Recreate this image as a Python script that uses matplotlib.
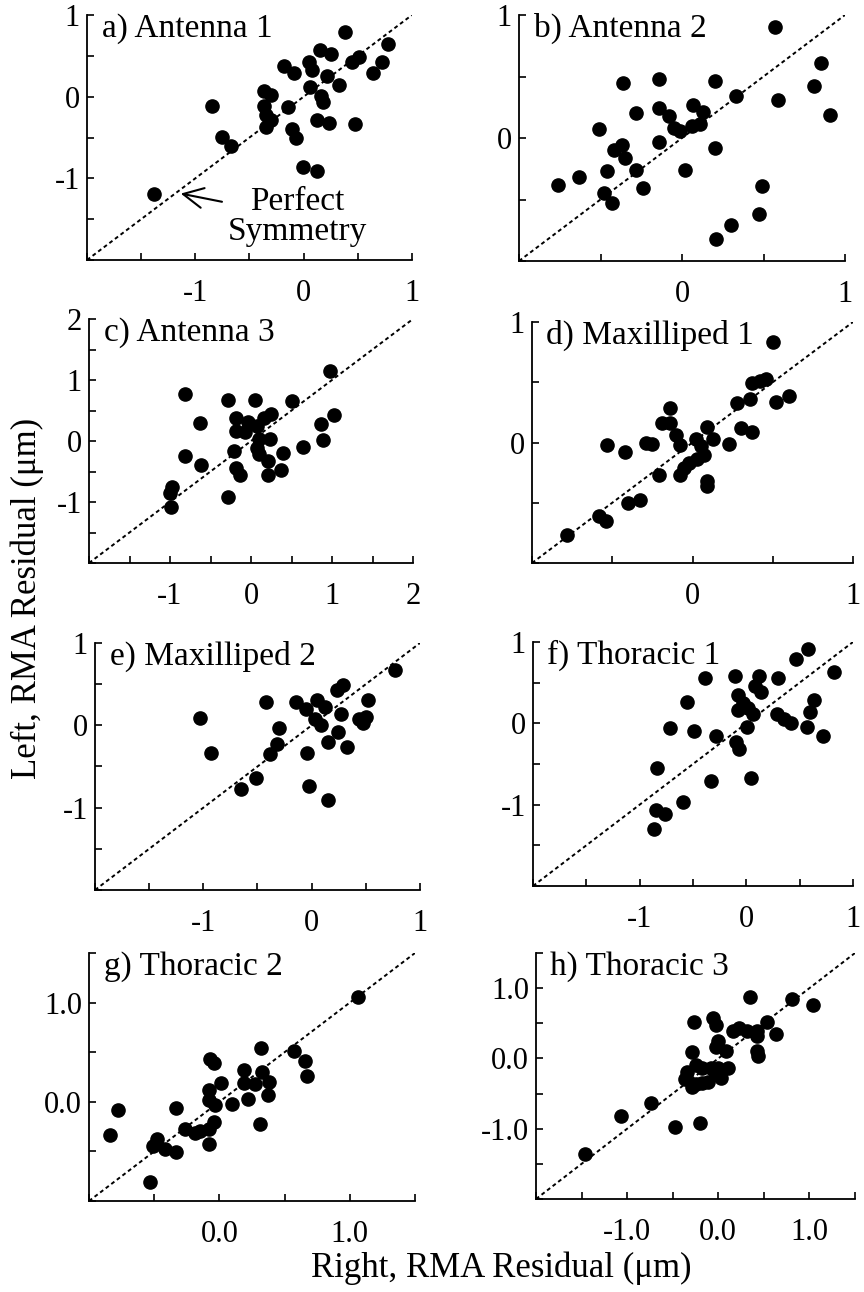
import matplotlib.pyplot as plt
import numpy as np

plt.rcParams['font.family'] = ['Liberation Serif', 'DejaVu Serif']

# a) Antenna 1
a_right = [0.38, 0.78, 0.72, 0.64, 0.51, 0.45, 0.15, 0.25, 0.05, 0.08, 0.22, 0.33, 0.06,
           -0.18, -0.09, 0.16, 0.18, -0.37, -0.30, -0.37, -0.35, -0.30, -0.35, -0.14, 0.12,
           0.23, 0.47, -0.11, -0.07, -0.85, -0.75, -0.67, -0.01, 0.12, -1.38]
a_left = [0.79, 0.64, 0.43, 0.29, 0.48, 0.43, 0.57, 0.52, 0.43, 0.33, 0.25, 0.14, 0.12,
          0.37, 0.29, 0.01, -0.06, 0.07, 0.02, -0.11, -0.22, -0.29, -0.37, -0.13, -0.29,
          -0.32, -0.34, -0.40, -0.51, -0.11, -0.49, -0.61, -0.86, -0.91, -1.19]

# b) Antenna 2
b_right = [0.57, 0.85, 0.81, 0.59, 0.91, 0.20, 0.33, -0.14, -0.36, -0.28, -0.14, -0.08,
           0.07, 0.13, -0.05, -0.01, 0.06, 0.11, -0.51, -0.14, 0.20, -0.37, -0.42, -0.35,
           -0.46, -0.28, 0.02, -0.63, -0.76, -0.48, -0.43, -0.24, 0.49, 0.47, 0.30, 0.21]
b_left = [0.90, 0.61, 0.42, 0.31, 0.19, 0.46, 0.34, 0.48, 0.45, 0.20, 0.24, 0.18, 0.27,
          0.21, 0.08, 0.06, 0.10, 0.11, 0.07, -0.03, -0.08, -0.06, -0.10, -0.16, -0.27,
          -0.26, -0.26, -0.32, -0.38, -0.45, -0.53, -0.41, -0.39, -0.62, -0.71, -0.82]

# c) Antenna 3
c_right = [0.97, 1.03, 0.86, 0.89, 0.64, 0.51, 0.05, -0.28, -0.81, -0.63, -0.19, -0.04,
           0.16, 0.25, 0.08, -0.19, -0.08, 0.10, 0.23, 0.08, 0.10, 0.39, -0.21, 0.21, 0.37,
           0.21, -0.19, -0.13, -0.82, -0.62, -0.29, -0.98, -1.00, -0.99]
c_left = [1.15, 0.43, 0.28, 0.02, -0.10, 0.65, 0.68, 0.68, 0.77, 0.30, 0.37, 0.31, 0.37,
          0.44, 0.25, 0.17, 0.14, 0.03, 0.03, -0.11, -0.22, -0.20, -0.17, -0.33, -0.47,
          -0.55, -0.44, -0.55, -0.24, -0.39, -0.91, -0.75, -0.85, -1.09]

# d) Maxilliped 1
d_right = [0.50, 0.37, 0.42, 0.46, 0.60, 0.52, 0.28, 0.36, 0.30, 0.37, 0.23, -0.14, -0.19,
           -0.14, -0.10, -0.08, 0.09, 0.13, 0.02, 0.05, 0.07, 0.03, -0.02, -0.05, -0.08,
           0.09, 0.09, -0.29, -0.25, -0.53, -0.42, -0.21, -0.40, -0.33, -0.58, -0.54, -0.78]
d_left = [0.83, 0.49, 0.51, 0.53, 0.39, 0.34, 0.33, 0.36, 0.12, 0.09, -0.01, 0.29, 0.16,
          0.16, 0.06, -0.02, 0.13, 0.03, 0.03, -0.03, -0.10, -0.14, -0.17, -0.21, -0.27,
          -0.32, -0.36, 0.00, -0.01, -0.02, -0.08, -0.27, -0.50, -0.48, -0.61, -0.65, -0.77]

# e) Maxilliped 2
e_right = [0.77, 0.29, 0.23, 0.52, 0.05, 0.12, -0.14, -0.05, -0.42, 0.27, 0.03, 0.09,
           0.44, 0.50, 0.47, 0.24, 0.15, 0.33, -0.04, -1.03, -0.93, -0.30, -0.32, -0.38,
           -0.51, -0.65, -0.02, 0.15]
e_left = [0.67, 0.49, 0.43, 0.31, 0.31, 0.22, 0.28, 0.20, 0.28, 0.14, 0.08, 0.00, 0.08,
          0.10, 0.03, -0.08, -0.20, -0.26, -0.33, 0.09, -0.34, -0.03, -0.23, -0.35, -0.64,
          -0.77, -0.74, -0.91]

# f) Thoracic 1
f_right = [0.58, 0.47, 0.82, -0.39, -0.11, 0.12, 0.30, 0.08, 0.14, -0.08, -0.03, -0.08,
           0.02, 0.06, -0.56, 0.63, 0.60, 0.29, 0.35, 0.42, 0.57, 0.72, 0.01, -0.72, -0.49,
           -0.28, -0.10, -0.07, 0.04, -0.84, -0.33, -0.59, -0.85, -0.76, -0.87]
f_left = [0.91, 0.79, 0.63, 0.56, 0.58, 0.58, 0.56, 0.46, 0.39, 0.35, 0.25, 0.16, 0.19,
          0.12, 0.26, 0.29, 0.14, 0.12, 0.05, 0.01, -0.04, -0.16, -0.04, -0.06, -0.10,
          -0.16, -0.23, -0.32, -0.67, -0.55, -0.71, -0.97, -1.06, -1.11, -1.30]

# g) Thoracic 2
g_right = [1.06, 0.32, 0.57, 0.66, 0.67, -0.07, -0.04, 0.19, 0.33, 0.01, 0.19, 0.27, 0.38,
           -0.08, 0.37, 0.22, -0.08, -0.03, 0.10, -0.78, -0.33, -0.84, -0.04, -0.08, -0.15,
           -0.19, -0.26, 0.31, -0.48, -0.51, -0.42, -0.33, -0.08, -0.53]
g_left = [1.06, 0.54, 0.51, 0.41, 0.26, 0.43, 0.39, 0.32, 0.30, 0.19, 0.19, 0.18, 0.20,
          0.12, 0.07, 0.03, 0.02, -0.03, -0.02, -0.08, -0.06, -0.33, -0.20, -0.27, -0.29,
          -0.31, -0.27, -0.22, -0.38, -0.45, -0.48, -0.51, -0.43, -0.81]

# h) Thoracic 3
h_right = [0.35, 0.81, 1.04, -0.27, -0.06, -0.03, 0.53, 0.16, 0.23, 0.31, 0.42, 0.42, 0.63,
           0.00, -0.03, 0.08, 0.42, 0.44, -0.29, -0.25, -0.18, -0.08, 0.00, 0.11, -0.34,
           -0.04, 0.03, -0.36, -0.25, -0.18, -0.11, -0.29, -0.74, -1.07, -0.47, -0.20, -1.46]
h_left = [0.87, 0.84, 0.76, 0.52, 0.57, 0.47, 0.52, 0.39, 0.44, 0.39, 0.39, 0.32, 0.35,
          0.25, 0.16, 0.11, 0.11, 0.04, 0.09, -0.10, -0.13, -0.13, -0.13, -0.14, -0.20,
          -0.20, -0.28, -0.29, -0.36, -0.35, -0.33, -0.41, -0.64, -0.82, -0.98, -0.92, -1.36]

titles = ["a) Antenna 1", "b) Antenna 2", "c) Antenna 3", "d) Maxilliped 1",
          "e) Maxilliped 2", "f) Thoracic 1", "g) Thoracic 2", "h) Thoracic 3"]
right_vals = [a_right, b_right, c_right, d_right, e_right, f_right, g_right, h_right]
left_vals = [a_left, b_left, c_left, d_left, e_left, f_left, g_left, h_left]
x_limits = [(-2, 1), (-1, 1), (-2, 2), (-1, 1), (-2, 1), (-2, 1), (-1, 1.5), (-2, 1.5)]
y_limits = [(-2, 1), (-1, 1), (-2, 2), (-1, 1), (-2, 1), (-2, 1), (-1, 1.5), (-2, 1.5)]
x_labeled = [[-1, 0, 1], [0, 1], [-1, 0, 1, 2], [0, 1], [-1, 0, 1], [-1, 0, 1], [0, 1], [-1, 0, 1]]
y_labeled = [[-1, 0, 1], [0, 1], [-1, 0, 1, 2], [0, 1], [-1, 0, 1], [-1, 0, 1], [0, 1], [-1, 0, 1]]
decimals = [0, 0, 0, 0, 0, 0, 1, 1]

# axes boxes in pixels: left, top, right, bottom
boxes = [(87, 15, 412, 260), (519, 15, 845, 261),
         (89, 319, 413, 563), (532, 322, 853, 563),
         (95, 643, 420, 890), (533, 642, 853, 886),
         (89, 953, 415, 1201), (536, 953, 855, 1199)]

W, H = 864, 1292
fig = plt.figure(figsize=(W / 100, H / 100), dpi=100)

for i, (l, t, r, b) in enumerate(boxes):
    ax = fig.add_axes([l / W, 1 - b / H, (r - l) / W, (b - t) / H])
    x0, x1 = x_limits[i]
    y0, y1 = y_limits[i]

    # perfect symmetry line
    ax.plot([x0, x1], [y0, y1], color='black', lw=1.4, ls=(0, (2, 1.6)))
    ax.plot(right_vals[i], left_vals[i], 'o', color='black', ms=9.5, mec='black')

    ax.set_xlim(x0, x1)
    ax.set_ylim(y0, y1)
    ax.spines['top'].set_visible(False)
    ax.spines['right'].set_visible(False)
    for s in ('left', 'bottom'):
        ax.spines[s].set_linewidth(1.3)

    fmt = "{:.%df}" % decimals[i]
    ax.set_xticks(x_labeled[i])
    ax.set_xticklabels([fmt.format(v) for v in x_labeled[i]])
    ax.set_yticks(y_labeled[i])
    ax.set_yticklabels([fmt.format(v) for v in y_labeled[i]])
    ax.set_xticks(np.arange(x0, x1 + 0.01, 0.5), minor=True)
    ax.set_yticks(np.arange(y0, y1 + 0.01, 0.5), minor=True)
    ax.tick_params(which='both', direction='in', length=5, width=1.2)
    ax.tick_params(axis='x', which='major', pad=14, labelsize=22)
    ax.tick_params(axis='y', which='major', pad=5, labelsize=22)

    ax.text(0.045, 0.945, titles[i], transform=ax.transAxes, ha='left', va='center',
            fontsize=24)

    if i == 0:
        ax.annotate("Perfect\nSymmetry", xy=(-1.16, -1.18), xytext=(-0.06, -1.47),
                    ha='center', va='center', fontsize=24, linespacing=1.0,
                    arrowprops=dict(arrowstyle='->,head_length=0.6,head_width=0.3',
                                    lw=1.5, color='black'))

fig.text(0.032, 0.537, "Left, RMA Residual (\u03bcm)", rotation=90, ha='center', va='center',
         fontsize=25)
fig.text(0.58, 0.0186, "Right, RMA Residual (\u03bcm)", ha='center', va='center', fontsize=25)

fig.savefig("out.png", dpi=100)
